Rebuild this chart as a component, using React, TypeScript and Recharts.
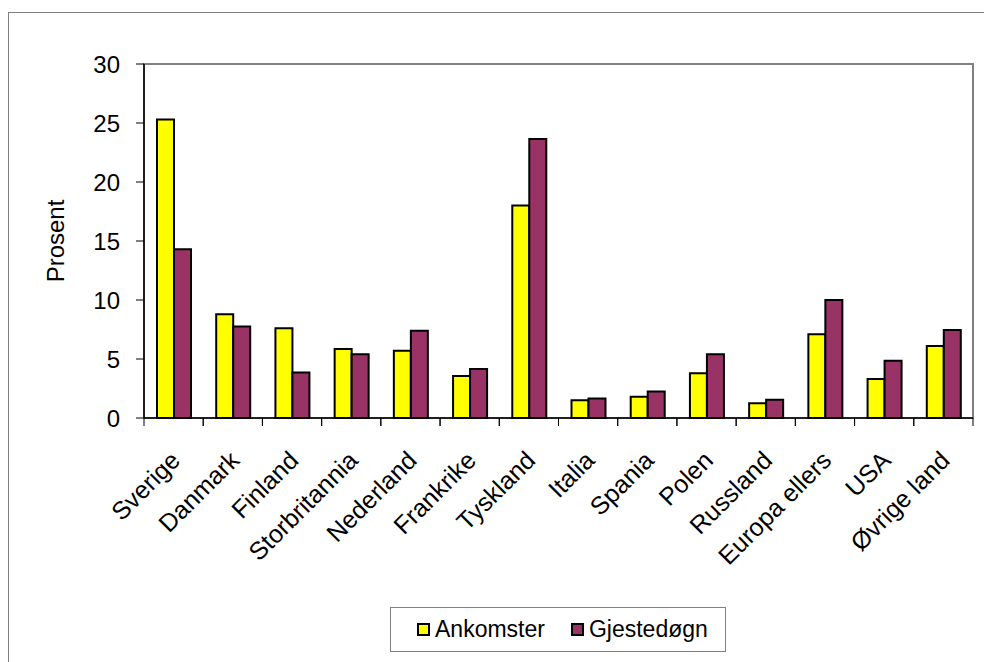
import React from "react"
import { BarChart, Bar, XAxis, YAxis, ReferenceArea } from "recharts"

const countries = [
  "Sverige",
  "Danmark",
  "Finland",
  "Storbritannia",
  "Nederland",
  "Frankrike",
  "Tyskland",
  "Italia",
  "Spania",
  "Polen",
  "Russland",
  "Europa ellers",
  "USA",
  "Øvrige land",
]
const ankomster = [25.3, 8.8, 7.6, 5.85, 5.7, 3.55, 18.0, 1.5, 1.8, 3.8, 1.25, 7.1, 3.3, 6.1]
const gjestedogn = [14.3, 7.75, 3.85, 5.4, 7.4, 4.15, 23.65, 1.65, 2.25, 5.4, 1.55, 10.0, 4.85, 7.45]
const yTicks = [0, 5, 10, 15, 20, 25, 30]

const data = countries.map((country, i) => ({
  country,
  Ankomster: ankomster[i],
  Gjestedøgn: gjestedogn[i],
}))

const FONT = "'Liberation Sans', Arial, sans-serif"
const YELLOW = "#ffff00"
const PURPLE = "#993366"
const BAND = 829 / countries.length

function CountryTick(props: any) {
  const { x, y, payload } = props
  const ax = x + 8
  const ay = y + 44
  return (
    <g>
      <line x1={x - BAND / 2} y1={y} x2={x - BAND / 2} y2={y + 8} stroke="#000" />
      <line x1={x + BAND / 2} y1={y} x2={x + BAND / 2} y2={y + 8} stroke="#000" />
      <text
        x={ax}
        y={ay}
        textAnchor="end"
        transform={`rotate(-45 ${ax} ${ay})`}
        fontSize={25}
        fontFamily={FONT}
        fill="#000"
      >
        {payload.value}
      </text>
    </g>
  )
}

function LegendItem({ color, label }: { color: string; label: string }) {
  return (
    <span style={{ display: "inline-flex", alignItems: "center", marginRight: 26 }}>
      <span
        style={{
          width: 9,
          height: 9,
          background: color,
          border: "2px solid #000",
          marginRight: 5,
        }}
      />
      <span>{label}</span>
    </span>
  )
}

export default function App() {
  return (
    <div
      style={{
        position: "absolute",
        left: 0,
        top: 0,
        width: 984,
        height: 662,
        overflow: "hidden",
        background: "#fff",
        fontFamily: FONT,
      }}
    >
      <div
        style={{
          position: "absolute",
          left: 8,
          top: 12,
          width: 1020,
          height: 700,
          border: "1px solid #808080",
        }}
      />
      <div style={{ position: "absolute", left: 0, top: 0 }}>
        <BarChart
          width={984}
          height={662}
          data={data}
          margin={{ top: 64, right: 11, left: 0, bottom: 0 }}
          barSize={17}
          barGap={0}
        >
          <ReferenceArea y1={0} y2={30} fill="none" stroke="#808080" strokeWidth={2} />
          <XAxis
            dataKey="country"
            interval={0}
            height={244}
            tickLine={false}
            tickSize={0}
            tickMargin={0}
            axisLine={{ stroke: "#000", strokeWidth: 1.5 }}
            tick={<CountryTick />}
          />
          <YAxis
            width={144}
            domain={[0, 30]}
            ticks={yTicks}
            interval={0}
            tickSize={8}
            tickMargin={16}
            axisLine={{ stroke: "#000", strokeWidth: 1.5 }}
            tickLine={{ stroke: "#000" }}
            tick={{ fontSize: 24, fontFamily: FONT, fill: "#000" }}
            label={{
              value: "Prosent",
              angle: -90,
              position: "insideLeft",
              dx: 50,
              style: { fontSize: 24, fontFamily: FONT, fill: "#000", textAnchor: "middle" },
            }}
          />
          <Bar dataKey="Ankomster" fill={YELLOW} stroke="#000" strokeWidth={2} isAnimationActive={false} />
          <Bar dataKey="Gjestedøgn" fill={PURPLE} stroke="#000" strokeWidth={2} isAnimationActive={false} />
        </BarChart>
      </div>
      <div
        style={{
          position: "absolute",
          left: 390,
          top: 607,
          width: 336,
          height: 45,
          border: "1.5px solid #808080",
          display: "flex",
          alignItems: "center",
          paddingLeft: 26,
          boxSizing: "border-box",
          fontSize: 23,
          color: "#000",
        }}
      >
        <LegendItem color={YELLOW} label="Ankomster" />
        <LegendItem color={PURPLE} label="Gjestedøgn" />
      </div>
    </div>
  )
}
